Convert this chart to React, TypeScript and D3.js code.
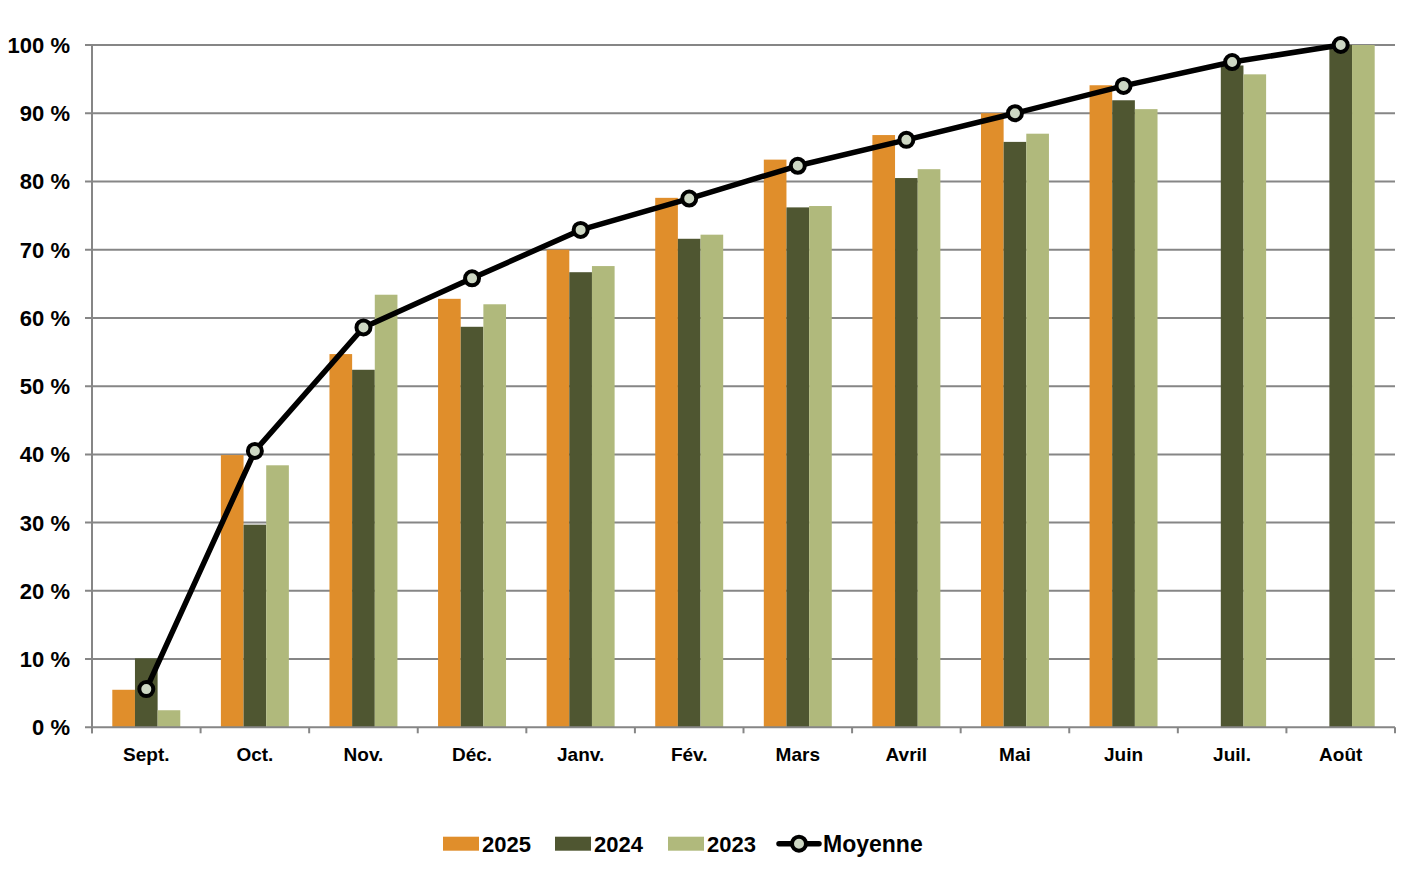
import React from 'react';
import * as d3 from 'd3';

const months = ['Sept.', 'Oct.', 'Nov.', 'Déc.', 'Janv.', 'Fév.', 'Mars', 'Avril', 'Mai', 'Juin', 'Juil.', 'Août'];
const seriesNames = ['2025', '2024', '2023'];
const values2025: (number | null)[] = [5.5, 39.9, 54.7, 62.8, 70.0, 77.6, 83.2, 86.8, 90.0, 94.1, null, null];
const values2024: (number | null)[] = [10.1, 29.7, 52.4, 58.7, 66.7, 71.6, 76.2, 80.5, 85.8, 91.9, 97.0, 100];
const values2023: (number | null)[] = [2.5, 38.4, 63.4, 62.0, 67.6, 72.2, 76.4, 81.8, 87.0, 90.6, 95.7, 100];
const moyenne: number[] = [5.6, 40.5, 58.6, 65.8, 72.9, 77.5, 82.3, 86.1, 90.0, 94.0, 97.5, 100];
const yTicks = [0, 10, 20, 30, 40, 50, 60, 70, 80, 90, 100];

const colors = ['#E08E2B', '#4F5631', '#B0B97C'];
const markerFill = '#CDD7C3';
const gridColor = '#868686';
const font = "'Liberation Sans', Arial, sans-serif";

const W = 1417;
const H = 878;
const plot = { left: 92, right: 1395, top: 45, bottom: 727.3 };

export default function App() {
  const series = [values2025, values2024, values2023];

  const x = d3.scaleBand<string>()
    .domain(months)
    .range([plot.left, plot.right])
    .paddingInner(0.374)
    .paddingOuter(0.187);

  const xSub = d3.scaleBand<string>()
    .domain(seriesNames)
    .range([0, x.bandwidth()]);

  const y = d3.scaleLinear().domain([0, 100]).range([plot.bottom, plot.top]);

  const cx = (i: number) => (x(months[i]) || 0) + x.bandwidth() / 2;

  const line = d3.line<number>()
    .x((_, i) => cx(i))
    .y(d => y(d));

  const step = x.step();
  const boundaries = d3.range(months.length + 1).map(i => plot.left + i * step);

  // legend layout
  const legendY = 843.7;
  const legendItems = [
    { label: '2025', swatchX: 443, textX: 482 },
    { label: '2024', swatchX: 555, textX: 594 },
    { label: '2023', swatchX: 668, textX: 707 },
  ];

  return (
    <svg width={W} height={H} style={{ position: 'absolute', left: 0, top: 0, background: '#fff' }}>
      {/* gridlines + y labels */}
      {yTicks.map(t => (
        <g key={t}>
          {t > 0 && (
            <line x1={plot.left - 7} x2={plot.right} y1={y(t)} y2={y(t)} stroke={gridColor} strokeWidth={2} />
          )}
          <text x={70} y={y(t) + 8} textAnchor="end" fontFamily={font} fontWeight="bold" fontSize={22} fill="#000">
            {`${t} %`}
          </text>
        </g>
      ))}

      {/* bars */}
      {series.map((vals, s) => (
        <g key={seriesNames[s]} fill={colors[s]}>
          {vals.map((v, i) => v == null ? null : (
            <rect
              key={i}
              x={(x(months[i]) || 0) + (xSub(seriesNames[s]) || 0)}
              y={y(v)}
              width={xSub.bandwidth()}
              height={plot.bottom - y(v)}
            />
          ))}
        </g>
      ))}

      {/* axes */}
      <line x1={plot.left} x2={plot.left} y1={plot.top} y2={plot.bottom + 6} stroke={gridColor} strokeWidth={2} />
      <line x1={plot.left - 7} x2={plot.right} y1={plot.bottom} y2={plot.bottom} stroke={gridColor} strokeWidth={2} />
      {boundaries.map((bx, i) => (
        <line key={i} x1={bx} x2={bx} y1={plot.bottom} y2={plot.bottom + 6} stroke={gridColor} strokeWidth={2} />
      ))}
      {months.map((m, i) => (
        <text key={m} x={cx(i)} y={761} textAnchor="middle" fontFamily={font} fontWeight="bold" fontSize={19} fill="#000">
          {m}
        </text>
      ))}

      {/* average line */}
      <path d={line(moyenne) || ''} fill="none" stroke="#000" strokeWidth={5.5} strokeLinejoin="round" />
      {moyenne.map((v, i) => (
        <circle key={i} cx={cx(i)} cy={y(v)} r={7} fill={markerFill} stroke="#000" strokeWidth={4} />
      ))}

      {/* legend */}
      {legendItems.map((it, i) => (
        <g key={it.label}>
          <rect x={it.swatchX} y={legendY - 7} width={36} height={14} fill={colors[i]} />
          <text x={it.textX} y={legendY + 8} fontFamily={font} fontWeight="bold" fontSize={22} fill="#000">
            {it.label}
          </text>
        </g>
      ))}
      <line x1={779} x2={819} y1={legendY} y2={legendY} stroke="#000" strokeWidth={5.5} strokeLinecap="round" />
      <circle cx={799} cy={legendY} r={7} fill={markerFill} stroke="#000" strokeWidth={4} />
      <text x={823} y={legendY + 8} fontFamily={font} fontWeight="bold" fontSize={23} fill="#000">
        Moyenne
      </text>
    </svg>
  );
}
